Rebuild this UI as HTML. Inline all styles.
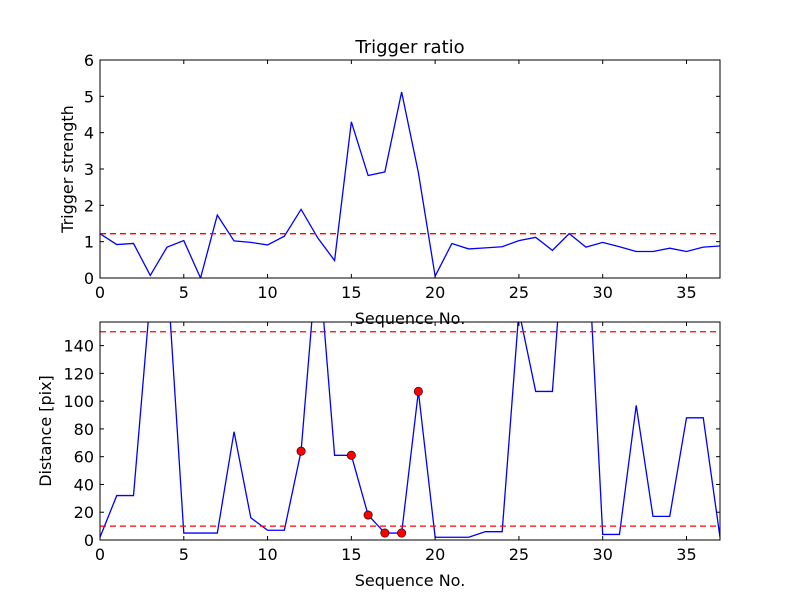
<!DOCTYPE html>
<html><head><meta charset="utf-8"><style>
html,body{margin:0;padding:0;background:#fff;}
svg{display:block;font-family:"DejaVu Sans","Liberation Sans",sans-serif;}
</style></head><body>
<svg id="chart" width="800" height="600" viewBox="0 0 800 600" xmlns="http://www.w3.org/2000/svg">
<rect width="800" height="600" fill="#fff"/>
<text x="410" y="53" font-size="18" text-anchor="middle">Trigger ratio</text>
<g id="top"></g><g id="bot"></g>
</svg>
<script>
const seq = [0,1,2,3,4,5,6,7,8,9,10,11,12,13,14,15,16,17,18,19,20,21,22,23,24,25,26,27,28,29,30,31,32,33,34,35,36,37];
const strength = [1.22,0.92,0.95,0.07,0.85,1.03,0.0,1.73,1.02,0.98,0.91,1.15,1.89,1.1,0.48,4.3,2.82,2.92,5.12,2.9,0.05,0.95,0.8,0.83,0.86,1.03,1.12,0.76,1.22,0.85,0.98,0.86,0.73,0.73,0.82,0.73,0.85,0.88];
const strengthThreshold = [1.22];
const distance = [2,32,32,175,195,5,5,5,78,16,7,7,64,210,61,61,18,5,5,107,2,2,2,6,6,165,107,107,270,240,4,4,97,17,17,88,88,2];
const distThresholds = [150,10];
const markedIdx = [12,15,16,17,18,19];
const xTicks = [0,5,10,15,20,25,30,35];
const topYTicks = [0,1,2,3,4,5,6];
const botYTicks = [0,20,40,60,80,100,120,140];

const NS="http://www.w3.org/2000/svg";
function mk(parent,tag,attrs){const e=document.createElementNS(NS,tag);for(const k in attrs)e.setAttribute(k,attrs[k]);parent.appendChild(e);return e;}

function panel(g,box,ymax,yTicks,vals,ylabel,thr,prefix,marks,ylx){
  const X=v=>box.x+(v-0)/(37-0)*box.w;
  const Y=v=>box.y+box.h-(v/ymax)*box.h;
  const cid=prefix+'-clip';
  const cp=mk(g,'clipPath',{id:cid});mk(cp,'rect',{x:box.x,y:box.y,width:box.w,height:box.h});
  const plot=mk(g,'g',{'clip-path':'url(#'+cid+')'});
  const pts=vals.map((v,i)=>X(seq[i]).toFixed(2)+','+Y(v).toFixed(2)).join(' ');
  const line=mk(plot,'polyline',{points:pts,fill:'none',stroke:'#0000ff','stroke-width':1.3});
  
  
  thr.forEach(t=>{
    const l=mk(plot,'line',{x1:box.x,x2:box.x+box.w,y1:Y(t),y2:Y(t),stroke:'#ff0000','stroke-width':1.3,'stroke-dasharray':'6,4'});
    
    
  });
  (marks||[]).forEach(i=>{
    const c=mk(g,'circle',{cx:X(seq[i]),cy:Y(vals[i]),r:4.2,fill:'#ff0000',stroke:'#000','stroke-width':0.6});
    
    
  });
  const fr=mk(g,'rect',{x:box.x,y:box.y,width:box.w,height:box.h,fill:'none',stroke:'#000','stroke-width':1});
  
  
  xTicks.forEach(t=>{
    const x=X(t);
    mk(g,'line',{x1:x,x2:x,y1:box.y+box.h,y2:box.y+box.h-4,stroke:'#000'});
    mk(g,'line',{x1:x,x2:x,y1:box.y,y2:box.y+4,stroke:'#000'});
    const tx=mk(g,'text',{x:x,y:box.y+box.h+20,'font-size':16,'text-anchor':'middle'});tx.textContent=t;
    
    
  });
  yTicks.forEach(t=>{
    const y=Y(t);
    mk(g,'line',{x1:box.x,x2:box.x+4,y1:y,y2:y,stroke:'#000'});
    mk(g,'line',{x1:box.x+box.w,x2:box.x+box.w-4,y1:y,y2:y,stroke:'#000'});
    const tx=mk(g,'text',{x:box.x-6,y:y+6,'font-size':16,'text-anchor':'end'});tx.textContent=t;
    
    
  });
  const xl=mk(g,'text',{x:box.x+box.w/2,y:box.y+box.h+46,'font-size':16,'text-anchor':'middle'});xl.textContent='Sequence No.';
  
  
  const yx=ylx, yy=box.y+box.h/2;
  const yl=mk(g,'text',{x:yx,y:yy,'font-size':16,'text-anchor':'middle',transform:'rotate(-90 '+yx+' '+yy+')'});yl.textContent=ylabel;
  
  
}
panel(document.getElementById('top'),{x:100,y:60,w:620,h:218},6,topYTicks,strength,'Trigger strength',strengthThreshold,'top',null,73);
panel(document.getElementById('bot'),{x:100,y:322,w:620,h:218},157,botYTicks,distance,'Distance [pix]',distThresholds,'bottom',markedIdx,51);
</script>
</body></html>
